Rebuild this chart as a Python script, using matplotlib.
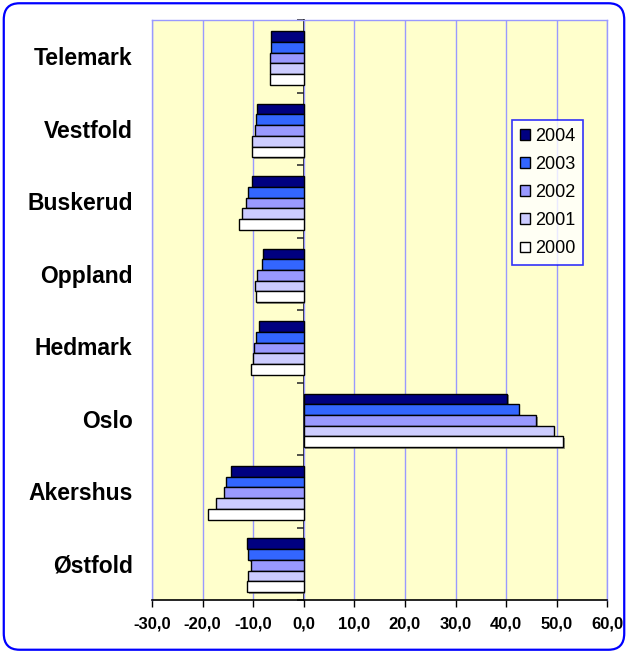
import numpy as np
import matplotlib
matplotlib.use("Agg")
import matplotlib.pyplot as plt
from matplotlib.patches import FancyBboxPatch
import matplotlib.patheffects as pe

plt.rcParams['font.family'] = ['Liberation Sans', 'DejaVu Sans']

counties = ["Telemark", "Vestfold", "Buskerud", "Oppland", "Hedmark", "Oslo", "Akershus", "Østfold"]
years = ["2004", "2003", "2002", "2001", "2000"]

v2004 = [-6.4, -9.3, -10.3, -8.0, -8.8, 40.2, -14.3, -11.2]
v2003 = [-6.4, -9.5, -11.0, -8.2, -9.5, 42.5, -15.3, -11.0]
v2002 = [-6.7, -9.7, -11.5, -9.2, -9.9, 45.9, -15.8, -10.5]
v2001 = [-6.7, -10.2, -12.3, -9.7, -10.0, 49.4, -17.4, -11.0]
v2000 = [-6.7, -10.2, -12.8, -9.5, -10.5, 51.3, -19.0, -11.2]
series = [v2004, v2003, v2002, v2001, v2000]
colors = ["#000080", "#3366FF", "#9999FF", "#CCCCFF", "#FFFFFF"]

xticks = np.arange(-30, 61, 10)

fig = plt.figure(figsize=(6.28, 6.53), dpi=100)
fig.patches.append(FancyBboxPatch((0.006, 0.005), 0.988, 0.99,
                                  boxstyle="round,pad=0,rounding_size=0.025",
                                  transform=fig.transFigure, facecolor="white",
                                  edgecolor="#0000FF", linewidth=1.6, zorder=-1))

ax = fig.add_axes([0.242, 0.081, 0.725, 0.888])
ax.set_facecolor("#FFFFCC")

y = np.arange(len(counties))
h = 0.148
shadow = [pe.SimplePatchShadow(offset=(1.2, -1.2), shadow_rgbFace="#555555", alpha=0.6), pe.Normal()]
for j, (vals, c, yr) in enumerate(zip(series, colors, years)):
    bars = ax.barh(y + (j - 2) * h + 0.02, vals, height=h, color=c, edgecolor="black",
                   linewidth=1.0, label=yr, zorder=3)
    for b in bars:
        b.set_path_effects(shadow)

ax.set_xlim(-30, 60)
ax.set_ylim(len(counties) - 0.5, -0.5)
ax.set_xticks(xticks)
ax.set_xticklabels([f"{t:.1f}".replace(".", ",") for t in xticks], fontsize=12, fontweight="bold")
ax.xaxis.grid(True, color="#9999FF", linewidth=1.0, zorder=0)
ax.set_axisbelow(True)
ax.tick_params(axis="x", direction="out", length=5, width=1, color="black", pad=7)

ax.set_yticks(y)
ax.set_yticklabels(counties, fontsize=16.5, fontweight="bold")
ax.tick_params(axis="y", length=0, pad=14)

for s in ["top", "left", "right"]:
    ax.spines[s].set_color("#9999FF")
    ax.spines[s].set_linewidth(1.0)
ax.spines["bottom"].set_color("black")
ax.spines["bottom"].set_linewidth(1.2)

# zero axis with category separator ticks
zero_pos = (0 - (-30)) / (60 - (-30))
sec = ax.secondary_yaxis(zero_pos)
sec.set_yticks(np.arange(-0.5, len(counties), 1.0))
sec.set_yticklabels([])
sec.tick_params(axis="y", direction="out", length=5, width=1.2, color="#333333")
sec.spines["left"].set_color("black")
sec.spines["left"].set_linewidth(1.2)
sec.spines["right"].set_color("black")
sec.spines["right"].set_linewidth(1.2)

leg = ax.legend(loc="upper left", bbox_to_anchor=(0.791, 0.828), frameon=True, fancybox=False,
                fontsize=13, handlelength=0.55, handleheight=0.55, handletextpad=0.3,
                labelspacing=0.62, borderpad=0.42, borderaxespad=0)
leg.get_frame().set_edgecolor("#0000FF")
leg.get_frame().set_linewidth(1.2)
for hnd in leg.legend_handles:
    hnd.set_path_effects([])

fig.savefig("out.png", dpi=100)
